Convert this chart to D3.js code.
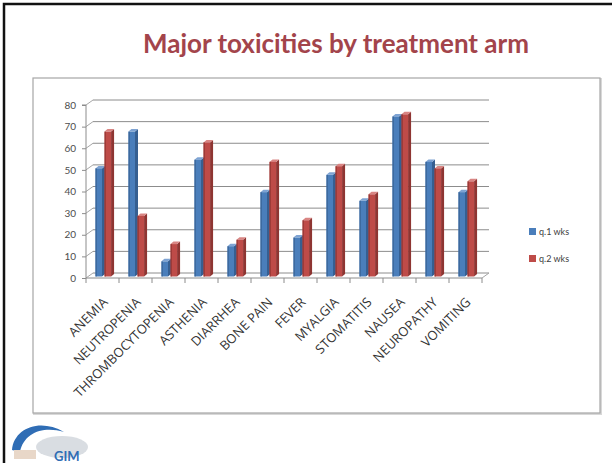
<!DOCTYPE html>
<html>
<head>
<meta charset="utf-8">
<script src="https://cdn.jsdelivr.net/npm/d3@7"></script>
<style>
  body { margin: 0; background: #fff; }
  svg { display: block; }
  .axis path, .axis line { stroke: #8c8c8c; }
  .axis text { fill: #4d4d4d; font-family: Lato, "Open Sans", sans-serif; }
</style>
</head>
<body>
<svg id="chart"></svg>
<script>
// toxicity categories and the two treatment arms
const categories = ["ANEMIA", "NEUTROPENIA", "THROMBOCYTOPENIA", "ASTHENIA", "DIARRHEA", "BONE PAIN",
  "FEVER", "MYALGIA", "STOMATITIS", "NAUSEA", "NEUROPATHY", "VOMITING"];
const seriesNames = ["q.1 wks", "q.2 wks"];
const arm1 = [50, 67, 7, 54, 14, 39, 18, 47, 35, 74, 53, 39];
const arm2 = [67, 28, 15, 62, 17, 53, 26, 51, 38, 75, 50, 44];
const yTicks = [0, 10, 20, 30, 40, 50, 60, 70, 80];

const W = 612, H = 463;
const svg = d3.select("#chart").attr("width", W).attr("height", H);

// slide border (left + top) and chart frame
svg.append("path").attr("d", `M4,${H} L4,4 L${W},4`)
  .attr("fill", "none").attr("stroke", "#111").attr("stroke-width", 2.5);
svg.append("rect").attr("x", 34).attr("y", 79).attr("width", 567).attr("height", 335)
  .attr("fill", "none").attr("stroke", "#d8d8d8").attr("stroke-width", 2);
svg.append("rect").attr("x", 33).attr("y", 78).attr("width", 567).attr("height", 335)
  .attr("fill", "#fff").attr("stroke", "#a6a6a6").attr("stroke-width", 1.2);

// title
svg.append("text")
  .attr("x", 336).attr("y", 53)
  .attr("text-anchor", "middle")
  .attr("textLength", 386).attr("lengthAdjust", "spacingAndGlyphs")
  .style("font-family", "Lato, 'Open Sans', sans-serif")
  .style("font-size", "26px")
  .style("font-weight", "bold")
  .style("fill", "#a3444b")
  .text("Major toxicities by treatment arm");

// fake 3d: front plane + offset to back wall
const front = {x0: 86, x1: 482};
const depth = {dx: 7, dy: -5};

const yScale = d3.scaleLinear().domain([0, 80]).range([278, 105]);
const xScale = d3.scaleBand().domain(categories).range([front.x0, front.x1])
  .paddingInner(0.45).paddingOuter(0.225);
const xCat = d3.scaleBand().domain(categories).range([front.x0, front.x1]);
const xSeries = d3.scaleBand().domain(seriesNames).range([0, xScale.bandwidth()]);
const colors = d3.scaleOrdinal().domain(seriesNames).range(["#4a7ebb", "#be4b48"]);
const sideColors = d3.scaleOrdinal().domain(seriesNames).range(["#365f91", "#8e3532"]);
const topColors = d3.scaleOrdinal().domain(seriesNames).range(["#7ea3d3", "#d98583"]);

const g = svg.append("g");

// back wall gridlines and side wall diagonals
yTicks.forEach(t => {
  const y = yScale(t);
  g.append("line")
    .attr("x1", front.x0 + depth.dx).attr("x2", front.x1 + depth.dx)
    .attr("y1", y + depth.dy).attr("y2", y + depth.dy)
    .attr("stroke", "#8c8c8c").attr("stroke-width", 1);
  g.append("line")
    .attr("x1", front.x0).attr("x2", front.x0 + depth.dx)
    .attr("y1", y).attr("y2", y + depth.dy)
    .attr("stroke", "#a6a6a6").attr("stroke-width", 1);
});
// floor right edge
g.append("line").attr("x1", front.x1).attr("x2", front.x1 + depth.dx)
  .attr("y1", yScale(0)).attr("y2", yScale(0) + depth.dy)
  .attr("stroke", "#a6a6a6");

// y axis (front)
const yAxisG = g.append("g").attr("class", "axis")
  .attr("transform", `translate(${front.x0},0)`)
  .call(d3.axisLeft(yScale).tickValues(yTicks).tickSize(4).tickPadding(6));
yAxisG.select(".domain").attr("d", `M-4,${yScale(80)}H0V${yScale(0)}`);
yAxisG.selectAll("text").style("font-size", "10px");

// x axis ticks at category boundaries
const xAxisG = g.append("g").attr("class", "axis");
xAxisG.append("line").attr("x1", front.x0).attr("x2", front.x1)
  .attr("y1", yScale(0)).attr("y2", yScale(0)).attr("stroke", "#8c8c8c");
xAxisG.selectAll(".xtick")
  .data(categories.concat(["_end"]))
  .join("line")
  .attr("class", "xtick")
  .attr("x1", (d, i) => front.x0 + i * xCat.step())
  .attr("x2", (d, i) => front.x0 + i * xCat.step())
  .attr("y1", yScale(0)).attr("y2", yScale(0) + 5)
  .attr("stroke", "#8c8c8c");

// category labels, rotated
xAxisG.selectAll(".xlabel")
  .data(categories)
  .join("text")
  .attr("class", "xlabel")
  .attr("transform", d => `translate(${xCat(d) + xCat.bandwidth() / 2 + 6},${yScale(0) + 25}) rotate(-45)`)
  .attr("text-anchor", "end")
  .style("font-family", "'Open Sans', sans-serif")
  .style("font-size", "13px")
  .style("fill", "#333")
  .text(d => d);

// bars: front face + side + top, bar sits a bit into depth
const barDepth = {dx: 3, dy: -2.5};
const inset = {dx: 2, dy: -1.5};
const barData = [];
categories.forEach((c, i) => {
  barData.push({cat: c, series: seriesNames[0], value: arm1[i]});
  barData.push({cat: c, series: seriesNames[1], value: arm2[i]});
});

const bars = g.append("g").selectAll(".bar")
  .data(barData)
  .join("g")
  .attr("class", "bar");

bars.each(function(d) {
  const sel = d3.select(this);
  const x = xScale(d.cat) + xSeries(d.series) + inset.dx;
  const w = xSeries.bandwidth() - barDepth.dx + 0.5;
  const yTop = yScale(d.value) + inset.dy;
  const yBot = yScale(0) + inset.dy;
  // side face
  sel.append("path")
    .attr("d", `M${x + w},${yTop} L${x + w + barDepth.dx},${yTop + barDepth.dy} L${x + w + barDepth.dx},${yBot + barDepth.dy} L${x + w},${yBot} Z`)
    .attr("fill", sideColors(d.series));
  // top face
  sel.append("path")
    .attr("d", `M${x},${yTop} L${x + barDepth.dx},${yTop + barDepth.dy} L${x + w + barDepth.dx},${yTop + barDepth.dy} L${x + w},${yTop} Z`)
    .attr("fill", topColors(d.series));
  // front face
  sel.append("rect")
    .attr("x", x).attr("y", yTop)
    .attr("width", w).attr("height", yBot - yTop)
    .attr("fill", colors(d.series));
  sel.append("rect")
    .attr("x", x).attr("y", yTop)
    .attr("width", 1.5).attr("height", yBot - yTop)
    .attr("fill", sideColors(d.series)).attr("opacity", 0.7);
});

// legend
const legend = svg.append("g").attr("transform", "translate(529,228)");
const items = legend.selectAll("g")
  .data(seriesNames)
  .join("g")
  .attr("transform", (d, i) => `translate(0,${i * 27})`);
items.append("rect").attr("width", 7).attr("height", 7).attr("fill", d => colors(d));
items.append("text").attr("x", 10).attr("y", 7)
  .style("font-family", "Lato, sans-serif").style("font-size", "9px").style("fill", "#404040")
  .text(d => d);

// logo bottom-left (rough)
const logo = svg.append("g");
logo.append("ellipse").attr("cx", 62).attr("cy", 447).attr("rx", 26).attr("ry", 11).attr("fill", "#d9dde2");
logo.append("path")
  .attr("d", "M12,450 C14,428 40,418 64,432 C44,426 24,432 20,452 Z")
  .attr("fill", "#2f6db5");
logo.append("rect").attr("x", 14).attr("y", 450).attr("width", 22).attr("height", 9).attr("fill", "#e8d7c8");
logo.append("text").attr("x", 54).attr("y", 461)
  .style("font-family", "Lato, sans-serif").style("font-size", "13px").style("font-weight", "bold")
  .style("fill", "#2f6db5").text("GIM");
</script>
</body>
</html>
